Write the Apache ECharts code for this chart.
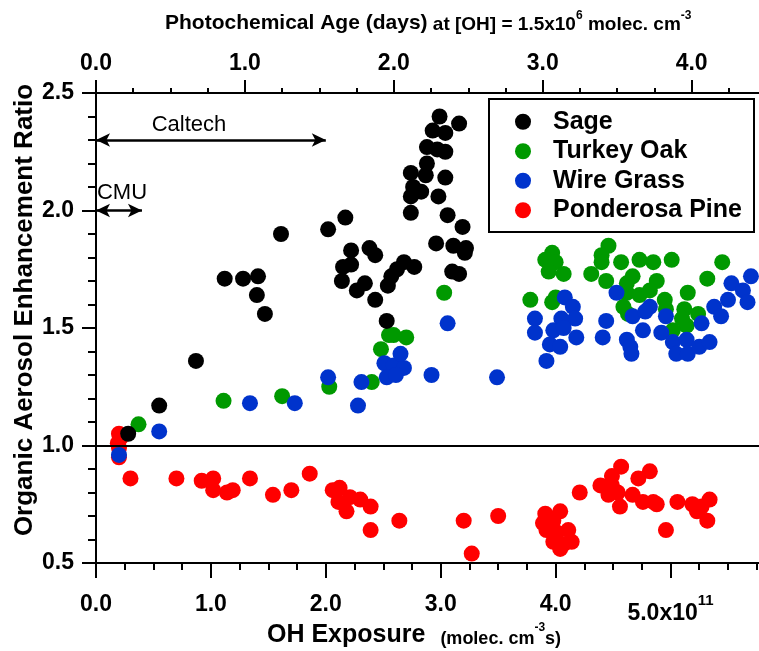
<!DOCTYPE html>
<html><head><meta charset="utf-8">
<script src="https://cdn.jsdelivr.net/npm/echarts@6/dist/echarts.min.js"></script>
<style>html,body{margin:0;padding:0;background:#fff}#c{width:759px;height:651px}</style>
</head><body><div id="c"></div>
<script>
const FONT = '"Liberation Sans", Arial, Helvetica, sans-serif';

// ---- data: [OH exposure (x1e11 molec cm-3 s), OA enhancement ratio]
const sage = [[0.28,1.05],[0.55,1.17],[0.87,1.36],[1.12,1.71],[1.28,1.71],[1.41,1.72],[1.40,1.64],[1.47,1.56],[1.61,1.90],[2.02,1.92],[2.17,1.97],[2.22,1.83],[2.38,1.84],[2.43,1.81],[2.15,1.76],[2.22,1.77],[2.14,1.70],[2.27,1.66],[2.34,1.69],[2.43,1.62],[2.54,1.68],[2.57,1.72],[2.62,1.75],[2.68,1.78],[2.77,1.76],[2.53,1.53],[2.99,2.40],[3.16,2.37],[2.93,2.34],[3.04,2.33],[2.88,2.27],[2.97,2.26],[3.04,2.25],[2.88,2.20],[2.74,2.16],[2.87,2.15],[3.04,2.14],[2.76,2.10],[2.83,2.08],[2.74,2.06],[2.98,2.06],[2.74,1.99],[3.06,1.98],[3.19,1.93],[2.96,1.86],[3.11,1.85],[3.22,1.84],[3.21,1.82],[3.10,1.74],[3.16,1.73]];
const turkeyOak = [[0.37,1.09],[1.11,1.19],[1.62,1.21],[2.03,1.25],[2.40,1.27],[2.48,1.41],[2.59,1.47],[2.70,1.46],[2.55,1.47],[3.03,1.65],[3.78,1.62],[3.97,1.82],[3.91,1.79],[4.00,1.78],[3.94,1.74],[4.07,1.73],[3.97,1.61],[4.00,1.63],[4.46,1.85],[4.40,1.81],[4.40,1.78],[4.57,1.78],[4.73,1.79],[4.85,1.78],[5.01,1.79],[4.31,1.73],[4.44,1.70],[4.67,1.72],[4.88,1.70],[4.62,1.65],[4.73,1.64],[4.59,1.59],[4.63,1.56],[4.95,1.62],[4.96,1.58],[5.15,1.65],[5.12,1.58],[5.24,1.56],[5.14,1.51],[5.02,1.49],[5.32,1.71],[5.45,1.78],[4.62,1.69],[4.82,1.66],[5.10,1.54]];
const wireGrass = [[0.20,0.96],[0.55,1.06],[1.34,1.18],[1.73,1.18],[2.02,1.29],[2.28,1.17],[2.31,1.27],[2.51,1.35],[2.59,1.34],[2.68,1.33],[2.53,1.29],[2.65,1.39],[2.61,1.30],[2.92,1.30],[3.06,1.52],[3.49,1.29],[4.08,1.63],[4.15,1.59],[4.17,1.54],[4.05,1.54],[3.82,1.54],[3.82,1.48],[3.98,1.49],[4.07,1.50],[4.18,1.46],[3.95,1.43],[4.04,1.42],[3.92,1.36],[4.53,1.65],[4.44,1.53],[4.41,1.46],[4.62,1.45],[4.67,1.55],[4.76,1.49],[4.65,1.42],[4.66,1.39],[4.82,1.59],[4.78,1.57],[4.96,1.55],[4.92,1.48],[5.02,1.44],[5.05,1.39],[5.14,1.45],[5.15,1.39],[5.27,1.52],[5.25,1.42],[5.34,1.44],[5.38,1.59],[5.44,1.55],[5.50,1.62],[5.53,1.69],[5.63,1.66],[5.70,1.72],[5.67,1.61]];
const ponderosaPine = [[0.20,1.05],[0.21,1.03],[0.19,1.01],[0.20,0.99],[0.20,0.95],[0.22,1.04],[0.30,0.86],[0.70,0.86],[0.92,0.85],[1.02,0.86],[1.02,0.81],[1.14,0.80],[1.19,0.81],[1.34,0.86],[1.54,0.79],[1.70,0.81],[1.86,0.88],[2.06,0.81],[2.12,0.82],[2.11,0.76],[2.21,0.78],[2.18,0.72],[2.30,0.77],[2.39,0.74],[2.39,0.64],[2.64,0.68],[3.20,0.68],[3.27,0.54],[3.50,0.70],[3.91,0.71],[3.89,0.67],[4.04,0.72],[3.98,0.68],[3.92,0.64],[4.01,0.63],[4.11,0.64],[3.98,0.59],[4.07,0.58],[4.14,0.59],[4.04,0.56],[4.21,0.80],[4.39,0.83],[4.49,0.87],[4.57,0.91],[4.46,0.79],[4.54,0.80],[4.56,0.74],[4.67,0.79],[4.72,0.86],[4.82,0.89],[4.76,0.76],[4.85,0.76],[4.88,0.75],[4.96,0.64],[5.06,0.76],[5.19,0.75],[5.27,0.74],[5.34,0.77],[5.32,0.68],[4.49,0.83],[5.23,0.72]];

const seriesNames = ['Sage','Turkey Oak','Wire Grass','Ponderosa Pine'];
const seriesColors = ['#000000','#009900','#0033cc','#ff0000'];

// axes
const xMin = 0, xMax = 5.77, xMajor = [0,1,2,3,4,5];
const ohPerDay = 1.296;            // 1.5e6 molec cm-3 * 86400 s / 1e11
const ageMax = xMax / ohPerDay;
const ageMajor = [0,1,2,3,4];
const yMin = 0.5, yMax = 2.5, yStep = 0.5;
const refLineY = 1.0;
const caltechRange = [0, 2.0], caltechY = 2.3;
const cmuRange = [0, 0.4], cmuY = 2.0;

function quarters(max){ const a=[]; for(let i=1;i*0.25<=max+1e-9;i++){ if(i%4) a.push(i*0.25);} return a; }

const tickStyle = {color:'#000', width:2};
const labelBase = {color:'#000', fontFamily:FONT, fontWeight:'bold', fontSize:23};

const chart = echarts.init(document.getElementById('c'), null, {renderer:'canvas'});
chart.setOption({
  animation:false,
  backgroundColor:'#fff',
  grid:{left:96, right:0, top:93, bottom:88, containLabel:false},
  legend:{
    data:seriesNames, orient:'vertical', left:515, top:107, padding:0, icon:'circle',
    itemWidth:16, itemHeight:16, itemGap:0, selectedMode:false,
    textStyle:{color:'#000', fontFamily:FONT, fontWeight:'bold', fontSize:25, lineHeight:29.5, padding:[0,0,0,17]}
  },
  xAxis:[
    {type:'value', position:'bottom', min:xMin, max:xMax,
     axisLine:{show:true, onZero:false, lineStyle:tickStyle},
     axisTick:{show:true, length:15, customValues:xMajor, lineStyle:tickStyle},
     splitLine:{show:false},
     axisLabel:Object.assign({margin:30, customValues:xMajor,
        formatter:v => Math.abs(v-5)<1e-9 ? '{m|5.0x10}{s|11}' : v.toFixed(1),
        rich:{m:Object.assign({}, labelBase, {lineHeight:41}),
              s:Object.assign({}, labelBase, {fontSize:15, verticalAlign:'top', lineHeight:15})}}, labelBase)},
    {type:'value', position:'bottom', min:xMin, max:xMax,
     axisLine:{show:false}, axisLabel:{show:false}, splitLine:{show:false},
     axisTick:{show:true, length:7, customValues:quarters(xMax), lineStyle:tickStyle}},
    {type:'value', position:'top', min:0, max:ageMax,
     axisLine:{show:true, onZero:false, lineStyle:tickStyle},
     axisTick:{show:true, length:13, customValues:ageMajor, lineStyle:tickStyle},
     splitLine:{show:false},
     axisLabel:Object.assign({margin:18, customValues:ageMajor, formatter:v=>v.toFixed(1)}, labelBase)},
    {type:'value', position:'top', min:0, max:ageMax,
     axisLine:{show:false}, axisLabel:{show:false}, splitLine:{show:false},
     axisTick:{show:true, length:5, customValues:quarters(ageMax), lineStyle:tickStyle}}
  ],
  yAxis:{type:'value', min:yMin, max:yMax, interval:yStep,
    axisLine:{show:true, onZero:false, lineStyle:tickStyle},
    axisTick:{show:true, length:14, lineStyle:tickStyle},
    minorTick:{show:true, splitNumber:5, length:8, lineStyle:tickStyle},
    splitLine:{show:false}, minorSplitLine:{show:false},
    axisLabel:Object.assign({margin:22, formatter:v=>v.toFixed(1)}, labelBase)},
  graphic:[
    {type:'rect', z:5, shape:{x:489, y:99, width:265, height:133}, style:{fill:'rgba(0,0,0,0)', stroke:'#000', lineWidth:2}},
    {type:'text', x:25, y:310, rotation:Math.PI/2,
     style:{text:'Organic Aerosol Enhancement Ratio', font:'bold 26px '+FONT, fill:'#000',
            textAlign:'center', align:'center', textVerticalAlign:'middle', verticalAlign:'middle'}},
    {type:'text', x:165, y:22,
     style:{text:'{a|Photochemical Age (days)}{b| at [OH] = 1.5x10}{s|6}{b| molec. cm}{s|-3}',
            textAlign:'left', align:'left', textVerticalAlign:'middle', verticalAlign:'middle',
            rich:{a:{fontFamily:FONT, fontWeight:'bold', fontSize:21, lineHeight:24, verticalAlign:'bottom', fill:'#000', color:'#000'},
                  b:{fontFamily:FONT, fontWeight:'bold', fontSize:19, lineHeight:22, verticalAlign:'bottom', fill:'#000', color:'#000'},
                  s:{fontFamily:FONT, fontWeight:'bold', fontSize:12, lineHeight:12, verticalAlign:'top', fill:'#000', color:'#000'}}}},
    {type:'text', x:267, y:635,
     style:{text:'{a|OH Exposure}{b|   (molec. cm}{s|-3}{b|s)}',
            textAlign:'left', align:'left', textVerticalAlign:'middle', verticalAlign:'middle',
            rich:{a:{fontFamily:FONT, fontWeight:'bold', fontSize:25, lineHeight:26, verticalAlign:'bottom', fill:'#000', color:'#000'},
                  b:{fontFamily:FONT, fontWeight:'bold', fontSize:18, lineHeight:21, verticalAlign:'bottom', fill:'#000', color:'#000'},
                  s:{fontFamily:FONT, fontWeight:'bold', fontSize:12, lineHeight:12, verticalAlign:'top', fill:'#000', color:'#000'}}}},
    {type:'text', x:189, y:125, style:{text:'Caltech', font:'22px '+FONT, fill:'#000', textAlign:'center', align:'center', textVerticalAlign:'middle', verticalAlign:'middle'}},
    {type:'text', x:122, y:193, style:{text:'CMU', font:'22px '+FONT, fill:'#000', textAlign:'center', align:'center', textVerticalAlign:'middle', verticalAlign:'middle'}}
  ],
  series:[
    {type:'scatter', name:'_ref', data:[], silent:true,
     markLine:{silent:true, animation:false, label:{show:false},
       data:[
         [{coord:[xMin,refLineY], symbol:'none', lineStyle:{color:'#000', width:2, type:'solid'}},
          {coord:[xMax,refLineY], symbol:'none'}],
         [{coord:[caltechRange[0],caltechY], symbol:'arrow', symbolSize:[10,14], lineStyle:{color:'#000', width:2.5, type:'solid'}},
          {coord:[caltechRange[1],caltechY], symbol:'arrow', symbolSize:[10,14]}],
         [{coord:[cmuRange[0],cmuY], symbol:'arrow', symbolSize:[10,14], lineStyle:{color:'#000', width:2.5, type:'solid'}},
          {coord:[cmuRange[1],cmuY], symbol:'arrow', symbolSize:[10,14]}]
       ]}},
    {type:'scatter', name:'Ponderosa Pine', data:ponderosaPine, symbolSize:16, itemStyle:{color:seriesColors[3], opacity:1}},
    {type:'scatter', name:'Turkey Oak', data:turkeyOak, symbolSize:16, itemStyle:{color:seriesColors[1], opacity:1}},
    {type:'scatter', name:'Wire Grass', data:wireGrass, symbolSize:16, itemStyle:{color:seriesColors[2], opacity:1}},
    {type:'scatter', name:'Sage', data:sage, symbolSize:16, itemStyle:{color:seriesColors[0], opacity:1}}
  ]
});
</script></body></html>
